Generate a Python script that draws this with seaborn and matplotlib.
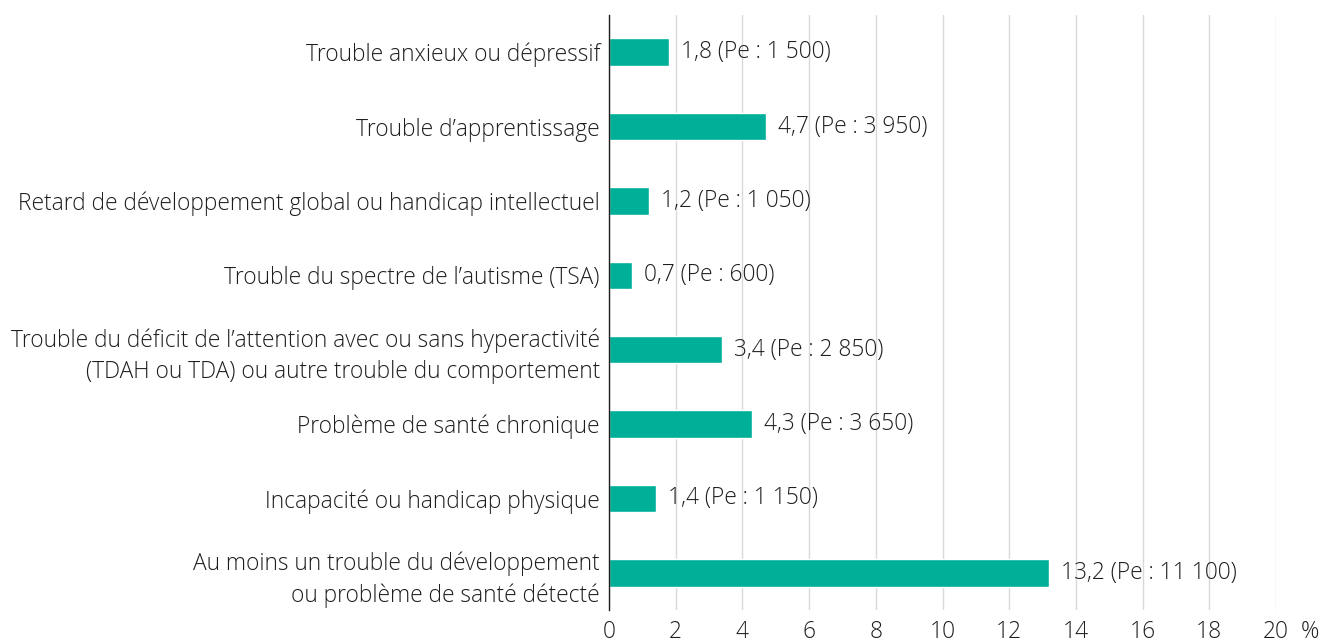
import matplotlib
matplotlib.use("Agg")
import matplotlib.pyplot as plt
import seaborn as sns
import pandas as pd
import numpy as np

categories = [
    "Trouble anxieux ou dépressif",
    "Trouble d\u2019apprentissage",
    "Retard de développement global ou handicap intellectuel",
    "Trouble du spectre de l\u2019autisme (TSA)",
    "Trouble du déficit de l\u2019attention avec ou sans hyperactivité\n(TDAH ou TDA) ou autre trouble du comportement",
    "Problème de santé chronique",
    "Incapacité ou handicap physique",
    "Au moins un trouble du développement\nou problème de santé détecté",
]
values = [1.8, 4.7, 1.2, 0.7, 3.4, 4.3, 1.4, 13.2]
pe_values = ["1 500", "3 950", "1 050", "600", "2 850", "3 650", "1 150", "11 100"]
x_ticks = [0, 2, 4, 6, 8, 10, 12, 14, 16, 18, 20]

sns.set_theme(style="white")
plt.rcParams["font.family"] = ["Open Sans", "DejaVu Sans"]
plt.rcParams["font.weight"] = "light"

FS = 16.4
TXT = "#1e1e1e"

df = pd.DataFrame({"cat": categories, "val": values})

fig = plt.figure(figsize=(13.31, 6.44), dpi=100)
ax = fig.add_axes([609/1331, 1-610/644, 667/1331, 595/644])

sns.barplot(data=df, y="cat", x="val", orient="h", color="#00AF98",
            width=0.37, saturation=1, ax=ax, zorder=3)

ax.set_xlim(0, 20)
ax.set_ylim(len(categories) - 0.5, -0.5)
ax.set_xticks(x_ticks)
ax.set_xticklabels([str(t) for t in x_ticks], fontsize=FS, color=TXT, fontweight="light")
ax.tick_params(axis="x", length=0, pad=7)
ax.set_yticks(range(len(categories)))
ax.set_yticklabels(categories, fontsize=FS, color=TXT, fontweight="light",
                   linespacing=1.4)
ax.tick_params(axis="y", which="major", length=0, pad=6.5)
ax.set_yticks(np.arange(-0.5, len(categories), 1.0), minor=True)
ax.tick_params(axis="y", which="minor", length=7, width=1, color=TXT, direction="out")
for lbl in ax.get_yticklabels():
    lbl.set_horizontalalignment("right")
    lbl.set_multialignment("right")

ax.grid(axis="x", color="#d9d9d9", linewidth=1, zorder=0)
ax.grid(axis="y", visible=False)
for s in ["top", "right", "bottom"]:
    ax.spines[s].set_visible(False)
ax.spines["left"].set_color(TXT)
ax.spines["left"].set_linewidth(1)
ax.spines["left"].set_zorder(5)
ax.set_xlabel("")
ax.set_ylabel("")

for i, (v, pe) in enumerate(zip(values, pe_values)):
    lab = f"{v:.1f}".replace(".", ",") + f" (Pe : {pe})"
    ax.text(v + 0.36, i, lab, va="center", ha="left", fontsize=FS,
            color=TXT, fontweight="light")

ax.text(1.051, -0.037, "%", transform=ax.transAxes, ha="center", va="center",
        fontsize=FS, color=TXT, fontweight="light")

fig.savefig("out.png", dpi=100)
